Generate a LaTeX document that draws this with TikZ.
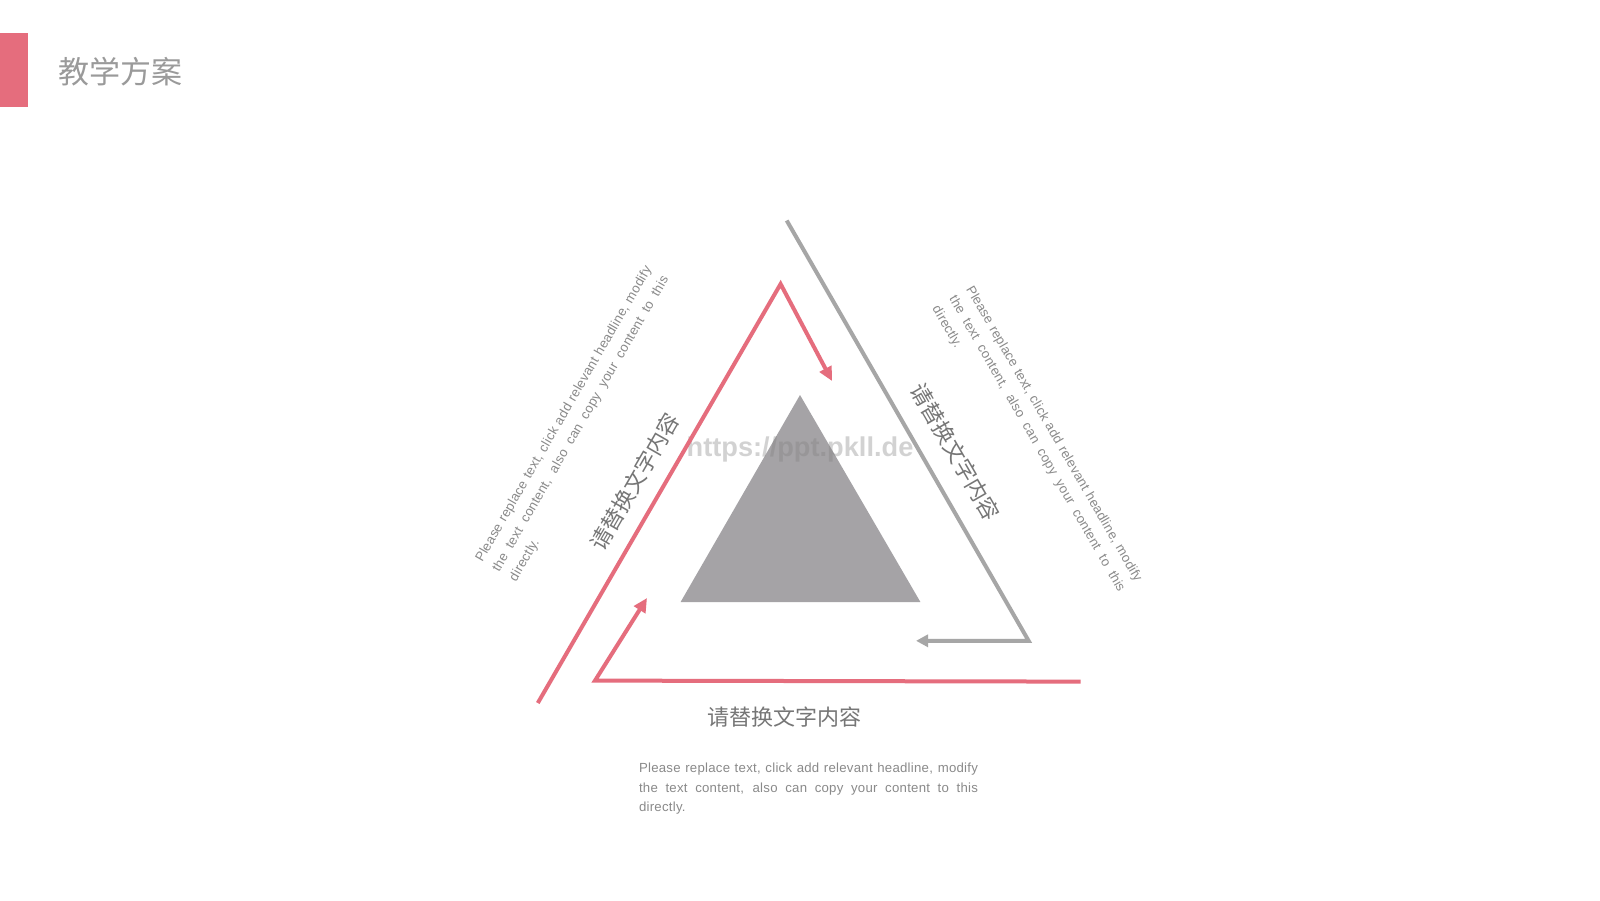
\documentclass[tikz,border=0pt]{standalone}
\usepackage{fontspec}
\setmainfont{Liberation Sans}
\newfontfamily\cjk{Noto Sans CJK SC}
\newfontfamily\parafont[LetterSpace=2]{Liberation Sans}
\usetikzlibrary{arrows.meta}
\definecolor{pinkc}{HTML}{E56D7D}
\definecolor{grayline}{HTML}{A6A6A6}
\definecolor{trigray}{HTML}{A5A3A6}
\definecolor{titlegray}{HTML}{9A9A9A}
\definecolor{labelgray}{HTML}{767676}
\definecolor{paragray}{HTML}{8A8A8A}
\begin{document}
\begin{tikzpicture}[x=0.5pt,y=-0.5pt,
  pinkline/.style={draw=pinkc,line width=2pt},
  grayl/.style={draw=grayline,line width=2pt},
  pinktip/.style={-{Triangle[length=7pt,width=6.5pt]}},
  graytip/.style={-{Triangle[length=6pt,width=6pt]}},
  cnlabel/.style={font=\cjk\fontsize{11pt}{13pt}\selectfont,text=labelgray,inner sep=0pt},
  para/.style={font=\parafont\fontsize{6.6pt}{9.75pt}\selectfont,text=paragray,text width=169.5pt,align=justify,inner sep=0pt}]
\useasboundingbox (0,0) rectangle (1600,900);
\fill[white] (0,0) rectangle (1600,900);
% header
\fill[pinkc] (0,33.3) rectangle (27.7,106.7);
\node[anchor=west,inner sep=0pt,font=\cjk\fontsize{15.5pt}{18pt}\selectfont,text=titlegray] (title) at (58.5,72) {教学方案};
% central triangle
\fill[trigray] (800,395) -- (680.6,602) -- (920.4,602) -- cycle;
% watermark
\node[font=\bfseries\fontsize{13.6pt}{15pt}\selectfont,text=gray,opacity=0.35] (wm) at (800,449) {https://ppt.pkll.de};
% connectors
\coordinate (g1) at (786.7,220.5);
\coordinate (g2) at (1028.6,640.8);
\coordinate (g3) at (916,640.8);
\coordinate (p1) at (537.8,703);
\coordinate (p2) at (780.6,284);
\coordinate (p3) at (832,381);
\coordinate (q1) at (647,598);
\coordinate (q2) at (595,680.6);
\coordinate (q3) at (1080.6,681.6);
\draw[grayl,graytip] (g1) -- (g2) -- (g3);
\draw[pinkline,pinktip] (p1) -- (p2) -- (p3);
\draw[pinkline,pinktip] (q3) -- (q2) -- (q1);
% labels
\node[cnlabel,rotate=60] (lbl) at (635,481.7) {请替换文字内容};
\node[cnlabel,rotate=-60] (rbl) at (955.6,452) {请替换文字内容};
\node[cnlabel] (bbl) at (784,716.7) {请替换文字内容};
% paragraphs
\node[para,rotate=60] (lpar) at (581,424) {Please replace text, click add relevant headline, modify\linebreak the text content, also can copy your content to this\linebreak directly.};
\node[para,rotate=-60] (rpar) at (1036.7,444) {Please replace text, click add relevant headline, modify\linebreak the text content, also can copy your content to this\linebreak directly.};
\node[para] (bpar) at (808.5,789) {Please replace text, click add relevant headline, modify\linebreak the text content, also can copy your content to this\linebreak directly.};
\end{tikzpicture}
\end{document}
